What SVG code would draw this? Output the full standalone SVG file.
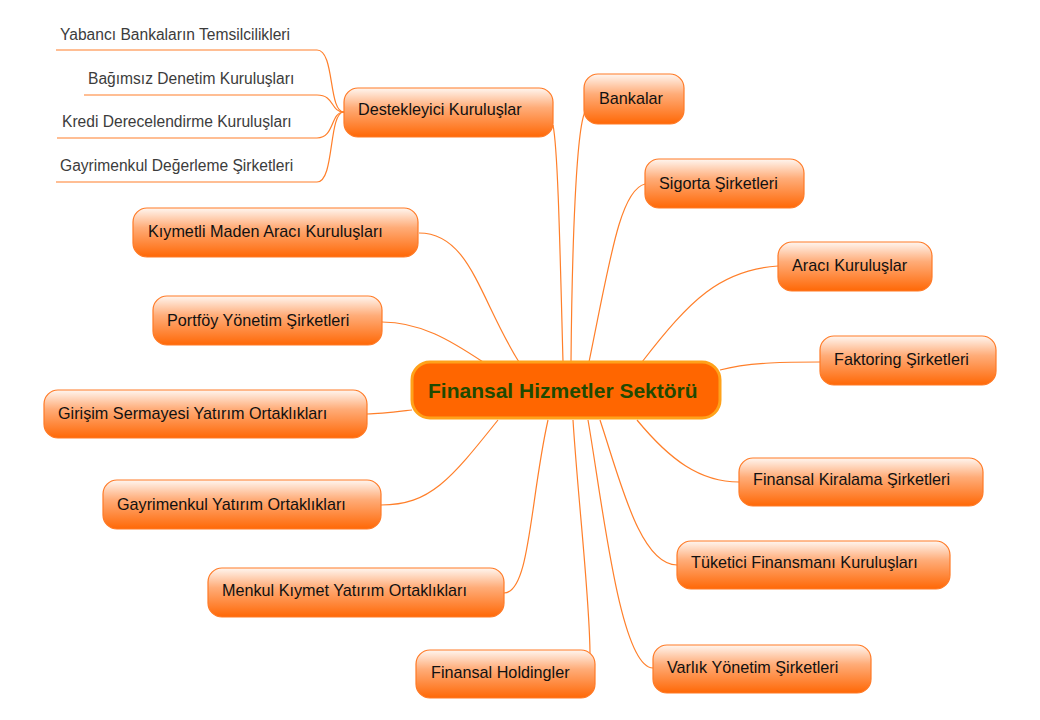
<svg xmlns="http://www.w3.org/2000/svg" width="1040" height="720" viewBox="0 0 1040 720">
<defs>
<linearGradient id="ng" x1="0" y1="0" x2="0" y2="1">
<stop offset="0" stop-color="#fff6f0"/>
<stop offset="0.4" stop-color="#ffac78"/>
<stop offset="1" stop-color="#ff6806"/>
</linearGradient>
<style>
.node rect{fill:url(#ng);stroke:#ff7a26;stroke-width:1.2}
.node text{font-family:"Liberation Sans",Arial,sans-serif;font-size:16.2px;fill:#111}
.edges path{fill:none;stroke:#ff7f2a;stroke-width:1.2}
.sub text{font-family:"Liberation Sans",Arial,sans-serif;font-size:15.6px;fill:#3c3c3c}
.center rect{fill:#ff6600;stroke:#ffa21a;stroke-width:3}
.center text{font-family:"Liberation Sans",Arial,sans-serif;font-size:21px;font-weight:bold;fill:#1f4a00}
</style>
</defs>
<rect width="1040" height="720" fill="#fff"/>
<g class="edges">
<path d="M553,125 C558,150 560,250 563,362"/>
<path d="M585,112 C576,130 572,250 571,362"/>
<path d="M645,184 C620,190 610,260 589,362"/>
<path d="M778,266 C720,270 690,300 642,362"/>
<path d="M820,362 C790,362 750,362 720,370"/>
<path d="M637,420 C670,460 700,482 739,482"/>
<path d="M600,420 C620,480 640,565 677,565"/>
<path d="M588,420 C602,500 620,668 653,668"/>
<path d="M573,420 C578,500 590,600 590,655"/>
<path d="M548,420 C530,500 530,593 504,593"/>
<path d="M498,420 C450,480 430,505 381,505"/>
<path d="M412,410 C395,412 380,414 367,414"/>
<path d="M483,362 C450,340 420,322 382,322"/>
<path d="M519,362 C480,300 470,233 419,233"/>
<path d="M344,112 C328,112 335,50 317,50 L56,50" stroke="#ffa66e"/>
<path d="M344,112 C330,112 335,95 317,95 L84,95"/>
<path d="M344,112 C330,112 335,138 317,138 L57,138"/>
<path d="M344,112 C328,112 335,182 317,182 L56,182"/>
</g>
<g id="sub" class="sub">
<text x="60" y="40">Yabancı Bankaların Temsilcilikleri</text>
<text x="88" y="84">Bağımsız Denetim Kuruluşları</text>
<text x="62" y="127">Kredi Derecelendirme Kuruluşları</text>
<text x="60" y="171">Gayrimenkul Değerleme Şirketleri</text>
</g>
<g id="n-destek" class="node"><rect x="344" y="88" width="209" height="49" rx="14"/><text x="358" y="115">Destekleyici Kuruluşlar</text></g>
<g id="n-bankalar" class="node"><rect x="584" y="74" width="100" height="50" rx="14"/><text x="599" y="104">Bankalar</text></g>
<g id="n-sigorta" class="node"><rect x="645" y="159" width="159" height="49" rx="14"/><text x="659" y="189">Sigorta Şirketleri</text></g>
<g id="n-araci" class="node"><rect x="778" y="242" width="154" height="49" rx="14"/><text x="792" y="271">Aracı Kuruluşlar</text></g>
<g id="n-faktoring" class="node"><rect x="820" y="336" width="176" height="49" rx="14"/><text x="834" y="365">Faktoring Şirketleri</text></g>
<g id="n-kiralama" class="node"><rect x="739" y="458" width="244" height="48" rx="14"/><text x="753" y="485">Finansal Kiralama Şirketleri</text></g>
<g id="n-tuketici" class="node"><rect x="677" y="541" width="273" height="48" rx="14"/><text x="691" y="568">Tüketici Finansmanı Kuruluşları</text></g>
<g id="n-varlik" class="node"><rect x="653" y="645" width="218" height="48" rx="14"/><text x="667" y="673">Varlık Yönetim Şirketleri</text></g>
<g id="n-holding" class="node"><rect x="416" y="650" width="179" height="48" rx="14"/><text x="431" y="678">Finansal Holdingler</text></g>
<g id="n-menkul" class="node"><rect x="208" y="568" width="296" height="49" rx="14"/><text x="222" y="596">Menkul Kıymet Yatırım Ortaklıkları</text></g>
<g id="n-gyo" class="node"><rect x="103" y="480" width="278" height="49" rx="14"/><text x="117" y="510">Gayrimenkul Yatırım Ortaklıkları</text></g>
<g id="n-girisim" class="node"><rect x="44" y="390" width="323" height="48" rx="14"/><text x="58" y="419">Girişim Sermayesi Yatırım Ortaklıkları</text></g>
<g id="n-portfoy" class="node"><rect x="153" y="296" width="229" height="49" rx="14"/><text x="167" y="326">Portföy Yönetim Şirketleri</text></g>
<g id="n-kiymetli" class="node"><rect x="133" y="208" width="285" height="49" rx="14"/><text x="148" y="237">Kıymetli Maden Aracı Kuruluşları</text></g>
<g id="n-center" class="center"><rect x="412" y="362" width="308" height="56" rx="18"/><text x="428" y="398">Finansal Hizmetler Sektörü</text></g>
</svg>
